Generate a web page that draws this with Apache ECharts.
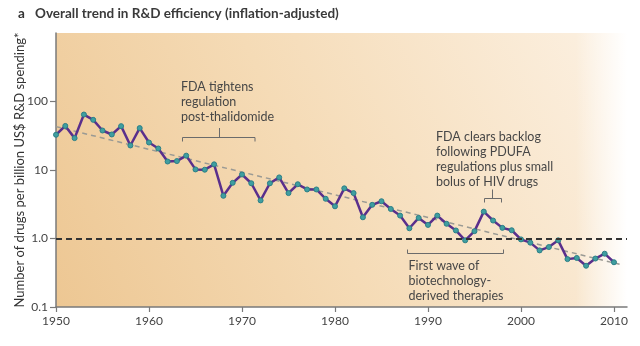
<!DOCTYPE html>
<html>
<head>
<meta charset="utf-8">
<script src="https://cdn.jsdelivr.net/npm/echarts@6/dist/echarts.min.js"></script>
<style>html,body{margin:0;padding:0;background:#fff}#c{width:640px;height:346px}</style>
</head>
<body>
<div id="c"></div>
<script>
const years = [1950,1951,1952,1953,1954,1955,1956,1957,1958,1959,1960,1961,1962,1963,1964,1965,1966,1967,1968,1969,1970,1971,1972,1973,1974,1975,1976,1977,1978,1979,1980,1981,1982,1983,1984,1985,1986,1987,1988,1989,1990,1991,1992,1993,1994,1995,1996,1997,1998,1999,2000,2001,2002,2003,2004,2005,2006,2007,2008,2009,2010];
const drugsPerBillion = [32.7,44,29.2,64.5,54,37.7,33,43.7,22.8,40.9,25.2,20.6,13.3,13.5,16.2,10.2,10.1,12.1,4.2,6.5,8.6,6.4,3.6,6.4,7.8,4.6,6.2,5.2,5.2,3.8,2.95,5.4,4.6,2.04,3.1,3.5,2.7,2.16,1.41,2.0,1.58,2.16,1.64,1.31,0.94,1.28,2.47,1.83,1.43,1.32,0.97,0.87,0.67,0.75,0.94,0.50,0.52,0.40,0.51,0.60,0.45];
const trendYears = [1950, 2010.6];
const trendValues = [43, 0.42];
const referenceLevel = 1;
const xTicks = [1950,1960,1970,1980,1990,2000,2010];
const yTicks = [0.1, 1, 10, 100];
const yTickLabels = {0.1:'0.1', 1:'1.0', 10:'10', 100:'100'};
const titleLetter = 'a';
const titleText = 'Overall trend in R&D efficiency (inflation-adjusted)';
const yAxisTitle = 'Number of drugs per billion US$ R&D spending*';
const notes = {
  thalidomide: 'FDA tightens\nregulation\npost-thalidomide',
  pdufa: 'FDA clears backlog\nfollowing PDUFA\nregulations plus small\nbolus of HIV drugs',
  biotech: 'First wave of\nbiotechnology-\nderived therapies'
};

const FONT = 'Lato, "Open Sans", sans-serif';
const chart = echarts.init(document.getElementById('c'), null, {renderer:'canvas'});
const G = {left:56, right:627, top:33, bottom:307};

const bracketStyle = {stroke:'#6b6b6b', lineWidth:1, fill:null};
const noteStyle = (t, x, y, lh) => ({type:'text', z:5, style:{text:t, x:x, y:y, font:'12.5px ' + FONT, fill:'#474747', lineHeight:lh, textVerticalAlign:'top'}});

chart.setOption({
  animation:false,
  backgroundColor:'#ffffff',
  grid:{left:G.left, right:640-G.right, top:G.top, bottom:346-G.bottom, containLabel:false, outerBoundsMode:'none'},
  graphic:[
    {type:'rect', z:-2, silent:true, shape:{x:G.left, y:G.top, width:G.right-G.left, height:G.bottom-G.top},
     style:{fill:new echarts.graphic.LinearGradient(0,1,1,0,[
       {offset:0, color:'#EDC793'},
       {offset:0.45, color:'#F5DBB6'},
       {offset:1, color:'#FCF1E3'}
     ])}},
    {type:'rect', z:-1, silent:true, shape:{x:G.left, y:G.top, width:G.right-G.left, height:G.bottom-G.top},
     style:{fill:new echarts.graphic.LinearGradient(0,0,1,0,[
       {offset:0, color:'rgba(255,255,255,0)'},
       {offset:0.91, color:'rgba(255,255,255,0)'},
       {offset:1, color:'rgba(255,255,255,1)'}
     ])}},
    {type:'text', z:5, style:{text:titleLetter, x:18, y:14, font:'bold 13.5px ' + FONT, fill:'#333', textVerticalAlign:'middle'}},
    {type:'text', z:5, style:{text:titleText, x:35, y:14, font:'bold 13.5px ' + FONT, fill:'#3a3a3a', textVerticalAlign:'middle'}},
    noteStyle(notes.thalidomide, 181, 79, 15.3),
    noteStyle(notes.pdufa, 436, 130, 14.8),
    noteStyle(notes.biotech, 408.5, 258.5, 14.85),
    {type:'polyline', z:5, shape:{points:[[182.5,141.5],[182.5,137.5],[255,137.5],[255,141.5]]}, style:bracketStyle},
    {type:'line', z:5, shape:{x1:219.5, y1:128, x2:219.5, y2:137.5}, style:bracketStyle},
    {type:'polyline', z:5, shape:{points:[[484.5,202.5],[484.5,198.5],[501.5,198.5],[501.5,202.5]]}, style:bracketStyle},
    {type:'line', z:5, shape:{x1:492.5, y1:189.5, x2:492.5, y2:198.5}, style:bracketStyle},
    {type:'polyline', z:5, shape:{points:[[407.5,249.5],[407.5,253.5],[503.5,253.5],[503.5,249.5]]}, style:bracketStyle}
  ],
  xAxis:{
    type:'value', min:1950, max:2011.4,
    axisLine:{show:true, lineStyle:{color:'#7a7a7a', width:1.5}},
    axisTick:{show:true, length:5, lineStyle:{color:'#7a7a7a', width:1.2}, customValues:xTicks},
    axisLabel:{customValues:xTicks, color:'#444', fontSize:12, fontFamily:FONT, margin:8, formatter:v=>String(v)},
    splitLine:{show:false}
  },
  yAxis:{
    type:'log', logBase:10, min:0.1, max:1000,
    name:yAxisTitle, nameLocation:'middle', nameGap:30, nameMoveOverlap:false,
    nameTextStyle:{color:'#333', fontSize:13, fontFamily:FONT},
    axisLine:{show:true, lineStyle:{color:'#7a7a7a', width:1.5}},
    axisTick:{show:true, length:6, lineStyle:{color:'#7a7a7a', width:1.2}, customValues:yTicks},
    axisLabel:{customValues:yTicks, color:'#444', fontSize:12, fontFamily:FONT, margin:8,
      formatter:v=>{ for (const k of yTicks) { if (Math.abs(v-k) < k*1e-6) return yTickLabels[k]; } return ''; }},
    splitLine:{show:false}
  },
  series:[
    {
      type:'line', z:3, silent:true,
      data:trendYears.map((y,i)=>[y, trendValues[i]]),
      symbol:'none',
      lineStyle:{color:'#9a9a94', width:1.5, type:[5,4]},
      markLine:{
        silent:true, symbol:'none', label:{show:false},
        lineStyle:{color:'#333', width:2, type:[6,4]},
        data:[{yAxis:referenceLevel}]
      }
    },
    {
      type:'line', z:4, silent:true,
      data:years.map((y,i)=>[y, drugsPerBillion[i]]),
      symbol:'circle', symbolSize:5,
      lineStyle:{color:'#5a2f8c', width:2.5},
      itemStyle:{color:'#3f9ea0', borderColor:'#2c7f86', borderWidth:1}
    }
  ]
});
</script>
</body>
</html>
